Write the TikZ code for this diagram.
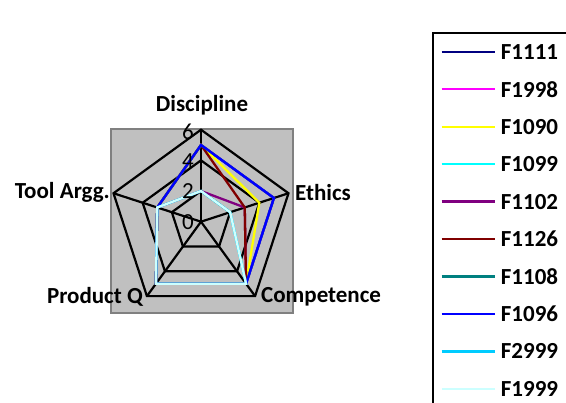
\documentclass[tikz,border=0pt]{standalone}
\usepackage{fontspec}
\setmainfont{Carlito}
\definecolor{plotgray}{HTML}{C0C0C0}
\definecolor{plotedge}{HTML}{808080}
\definecolor{cNavy}{HTML}{000080}
\definecolor{cMag}{HTML}{FF00FF}
\definecolor{cYel}{HTML}{FFFF00}
\definecolor{cCyan}{HTML}{00FFFF}
\definecolor{cPurp}{HTML}{800080}
\definecolor{cMar}{HTML}{800000}
\definecolor{cTeal}{HTML}{008080}
\definecolor{cBlue}{HTML}{0000FF}
\definecolor{cSky}{HTML}{00CCFF}
\definecolor{cLight}{HTML}{CCFFFF}
\begin{document}
\begin{tikzpicture}[x=1pt,y=1pt,
  lbl/.style={font=\fontsize{23}{25}\selectfont\bfseries, inner sep=0pt},
  tick/.style={font=\fontsize{23}{25}\selectfont, inner sep=0pt, anchor=east},
  gridline/.style={draw=black, line width=2.2pt, line join=miter},
  ser/.style={line width=2.3pt, line join=miter},
  legline/.style={line width=2.2pt}]
\useasboundingbox (0,0) rectangle (566,403);
\clip (0,0) rectangle (566,403);
% plot area
\draw[fill=plotgray, draw=plotedge, line width=1.8pt] (111,274) rectangle (293,90);
\begin{scope}[shift={(201,181.3)}]
  \foreach \k/\nm in {0/D,1/E,2/C,3/P,4/T}{
    \foreach \v in {0,...,6}{
      \coordinate (\nm\v) at ({90-72*\k}:{\v*92/6*1pt});
    }
  }
  \coordinate (O) at (0,0);
  % grid rings
  \foreach \v in {2,4,6}{
    \draw[gridline] (D\v)--(E\v)--(C\v)--(P\v)--(T\v)--cycle;
  }
  % spokes
  \foreach \nm in {D,E,C,P,T}{
    \draw[gridline] (O)--(\nm6);
  }
  % series
  \draw[ser, cNavy]  (D5)--(E5)--(C5)--(P5)--(T3)--cycle;
  \draw[ser, cMag]   (D5)--(E5)--(C5)--(P5)--(T3)--cycle;
  \draw[ser, cYel]   (D5)--(E4)--(C5)--(P5)--(T3)--cycle;
  \draw[ser, cCyan]  (D2)--(E2)--(C5)--(P5)--(T3)--cycle;
  \draw[ser, cPurp]  (D2)--(E3)--(C5)--(P5)--(T3)--cycle;
  \draw[ser, cMar]   (D5)--(E3)--(C5)--(P5)--(T3)--cycle;
  \draw[ser, cTeal]  (D5)--(E5)--(C5)--(P5)--(T3)--cycle;
  \draw[ser, cBlue]  (D5)--(E5)--(C5)--(P5)--(T3)--cycle;
  \draw[ser, cSky]   (D2)--(E2)--(C5)--(P5)--(T3)--cycle;
  \draw[ser, cLight] (D2)--(E2)--(C5)--(P5)--(T3)--cycle;
\end{scope}
% tick labels
\node[tick] (t6) at (194,271.3) {6};
\node[tick] (t4) at (194,242) {4};
\node[tick] (t2) at (194,212.3) {2};
\node[tick] (t0) at (194,180.6) {0};
% axis labels
\node[lbl] (lD) at (202,298) {Discipline};
\node[lbl, anchor=west] (lE) at (295,210.7) {Ethics};
\node[lbl, anchor=west] (lC) at (261,106.3) {Competence};
\node[lbl, anchor=east] (lP) at (143,106.3) {Product Q};
\node[lbl, anchor=east] (lT) at (110,210.7) {Tool Argg.};
% legend
\draw[black, line width=1.8pt] (433,370) rectangle (600,-20);
\foreach \i/\c/\t in {0/cNavy/F1111,1/cMag/F1998,2/cYel/F1090,3/cCyan/F1099,4/cPurp/F1102,5/cMar/F1126,6/cTeal/F1108,7/cBlue/F1096,8/cSky/F2999,9/cLight/F1999}{
  \coordinate (ls\i) at (441.7,{403-51.7-37.47*\i});
  \coordinate (le\i) at (495,{403-51.7-37.47*\i});
  \draw[legline, \c] (ls\i)--(le\i);
  \node[lbl, anchor=west] (lt\i) at (500.7,{403-51.7-37.47*\i}) {\t};
}
\end{tikzpicture}
\end{document}
